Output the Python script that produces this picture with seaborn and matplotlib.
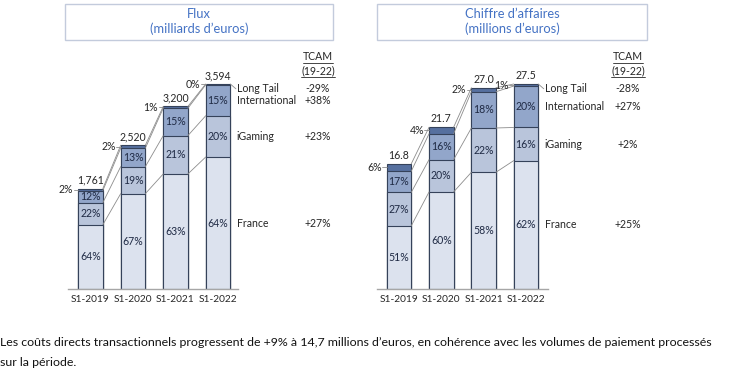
import numpy as np
import pandas as pd
import matplotlib
matplotlib.use("Agg")
import matplotlib.pyplot as plt
import seaborn as sns
from matplotlib.patches import Rectangle
from matplotlib.lines import Line2D

# ------------------------------------------------------------------
# Data
# ------------------------------------------------------------------
periods = ["S1-2019", "S1-2020", "S1-2021", "S1-2022"]
segments = ["France", "iGaming", "International", "Long Tail"]

flux_total = [1761, 2520, 3200, 3594]
flux_total_labels = ["1,761", "2,520", "3,200", "3,594"]
flux_france = [64, 67, 63, 64]
flux_igaming = [22, 19, 21, 20]
flux_intl = [12, 13, 15, 15]
flux_longtail = [2, 2, 1, 0.4]
flux_tcam = ["+27%", "+23%", "+38%", "-29%"]   # France, iGaming, International, Long Tail

ca_total = [16.8, 21.7, 27.0, 27.5]
ca_total_labels = ["16.8", "21.7", "27.0", "27.5"]
ca_france = [51, 60, 58, 62]
ca_igaming = [27, 20, 22, 16]
ca_intl = [17, 16, 18, 20]
ca_longtail = [6, 4, 2, 1]
ca_tcam = ["+25%", "+2%", "+27%", "-28%"]

colors = ["#DCE2EE", "#B9C5DB", "#92A6CA", "#56709F"]
edge = "#35425A"
txt_bar = "#1F2A44"
txt_dark = "#262626"
W, H = 735, 381
BAR_W = 0.58
FS = 7.6

sns.set_style("white")
plt.rcParams["font.family"] = ["Lato", "DejaVu Sans"]

fig = plt.figure(figsize=(W / 100, H / 100), dpi=100)


def px_axes(x0, x1, ybot, ytop):
    return fig.add_axes([x0 / W, 1 - ybot / H, (x1 - x0) / W, (ybot - ytop) / H])


def draw_panel(ax, total, total_labels, shares, tcam, xlim, ymax, tcam_x):
    shares = np.array(shares, dtype=float)          # (4 segments, 4 periods)
    values = shares / shares.sum(axis=0) * np.array(total)
    cum = np.cumsum(values, axis=0)

    # stacked bars: draw cumulative heights from the top down
    for k in range(3, -1, -1):
        df = pd.DataFrame({"period": periods, "value": cum[k]})
        sns.barplot(data=df, x="period", y="value", color=colors[k], saturation=1,
                    width=BAR_W, edgecolor=edge, linewidth=0.8, ax=ax)

    # connectors between bars
    for k in range(4):
        for i in range(3):
            ax.plot([i + BAR_W / 2, i + 1 - BAR_W / 2], [cum[k, i], cum[k, i + 1]],
                    color="#8C8C8C", lw=0.6, zorder=1)

    # labels
    for i in range(4):
        bottoms = np.concatenate([[0], cum[:, i]])
        for k in range(3):
            ax.text(i, (bottoms[k] + bottoms[k + 1]) / 2, f"{shares[k, i]:.0f}%",
                    ha="center", va="center", fontsize=FS, color=txt_bar)
        ylt = (bottoms[3] + bottoms[4]) / 2
        ax.text(i - BAR_W / 2 - 0.12, ylt, f"{shares[3, i]:.0f}%",
                ha="right", va="center", fontsize=FS, color=txt_dark)
        ax.plot([i - BAR_W / 2 - 0.11, i - BAR_W / 2], [ylt, ylt], color="#8C8C8C", lw=0.6)
        ax.text(i, total[i] + ymax * 0.012, total_labels[i], ha="center", va="bottom",
                fontsize=FS, color=txt_dark)

    # category labels and TCAM column (aligned with last bar segments)
    last = np.concatenate([[0], cum[:, 3]])
    lab_x = 3 + BAR_W / 2 + 0.15
    for k in range(4):
        if k == 3:
            y = last[4] - ymax * 0.02
            ax.plot([3 + BAR_W / 2, lab_x - 0.02], [last[4], y], color="#8C8C8C",
                    lw=0.6, clip_on=False)
        else:
            y = (last[k] + last[k + 1]) / 2
        ax.text(lab_x, y, segments[k], ha="left", va="center", fontsize=FS,
                color=txt_dark, clip_on=False)
        ax.text(tcam_x, y, tcam[k], ha="center", va="center", fontsize=FS,
                color=txt_dark, clip_on=False)

    ax.set_xlim(*xlim)
    ax.set_ylim(0, ymax)
    ax.set_xlabel("")
    ax.set_ylabel("")
    ax.set_yticks([])
    ax.tick_params(axis="x", length=0, labelsize=7.3, colors=txt_dark, pad=4)
    for s in ["left", "right", "top"]:
        ax.spines[s].set_visible(False)
    ax.spines["bottom"].set_color("#A6A6A6")
    ax.spines["bottom"].set_linewidth(1.0)


# ------------------------------------------------------------------
# Panels
# ------------------------------------------------------------------
ax1 = px_axes(68, 238, 289, 50)
draw_panel(ax1, flux_total, flux_total_labels,
           [flux_france, flux_igaming, flux_intl, flux_longtail], flux_tcam,
           (-0.53, 3.47), 3594 * 239 / 205, 5.35)

ax2 = px_axes(377, 548, 289, 50)
draw_panel(ax2, ca_total, ca_total_labels,
           [ca_france, ca_igaming, ca_intl, ca_longtail], ca_tcam,
           (-0.52, 3.52), 27.5 * 239 / 205, 5.41)

# title boxes
titles = [("Flux", "(milliards d’euros)", 65, 333), ("Chiffre d’affaires", "(millions d’euros)", 377, 647)]
for line1, line2, x0, x1 in titles:
    fig.patches.append(Rectangle((x0 / W, 1 - 40 / H), (x1 - x0) / W, 36 / H,
                                 transform=fig.transFigure, fill=False,
                                 edgecolor="#C3CBDC", lw=1.0))
    xc = (x0 + x1) / 2 / W
    fig.text(xc, 1 - 14 / H, line1, ha="center", va="center", fontsize=9.3, color="#4472C4")
    fig.text(xc, 1 - 29 / H, line2, ha="center", va="center", fontsize=9.3, color="#4472C4")

# TCAM headers (underlined)
heads = []
for x in [318, 628]:
    heads.append(fig.text(x / W, 1 - 57 / H, "TCAM", ha="center", va="center",
                          fontsize=FS, color=txt_dark))
    heads.append(fig.text(x / W, 1 - 71 / H, "(19-22)", ha="center", va="center",
                          fontsize=FS, color=txt_dark))

# bottom commentary
fig.text(0 / W, 1 - 343 / H,
         "Les coûts directs transactionnels progressent de +9% à 14,7 millions d’euros, "
         "en cohérence avec les volumes de paiement processés",
         ha="left", va="center", fontsize=8.9, color="#111111")
fig.text(0 / W, 1 - 362 / H, "sur la période.", ha="left", va="center",
         fontsize=8.9, color="#111111")

fig.canvas.draw()
r = fig.canvas.get_renderer()
for t in heads:
    bb = t.get_window_extent(renderer=r)
    fig.add_artist(Line2D([bb.x0 / W, bb.x1 / W], [(bb.y0 - 0.5) / H, (bb.y0 - 0.5) / H],
                          transform=fig.transFigure, color=txt_dark, lw=0.6))

fig.savefig("out.png", dpi=100, facecolor="white")
